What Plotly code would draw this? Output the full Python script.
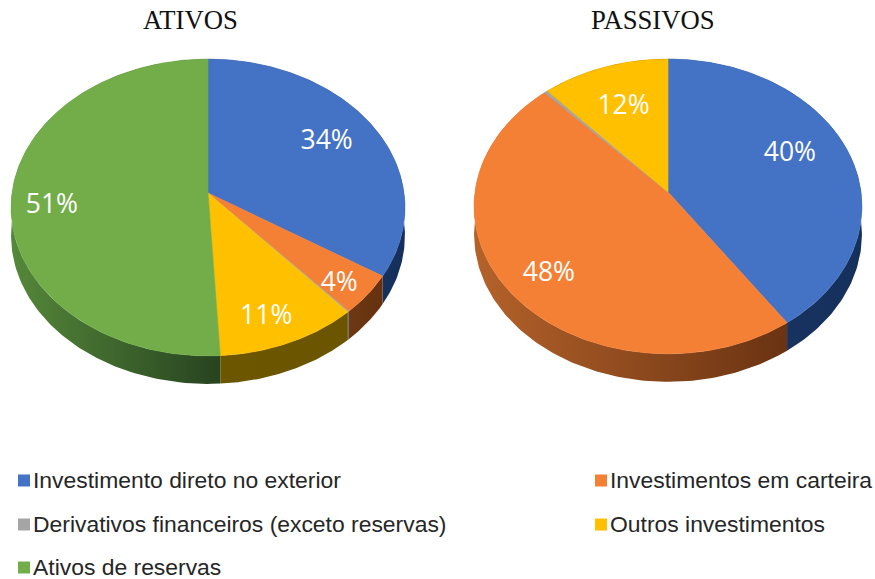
import numpy as np
import plotly.graph_objects as go

# ---- data ----
categories = ["Investimento direto no exterior", "Investimentos em carteira",
              "Derivativos financeiros (exceto reservas)", "Outros investimentos",
              "Ativos de reservas"]
ativos_values = [34, 4.4, 0.1, 10.6, 50.9]
passivos_values = [40.4, 47.6, 0.3, 11.7, 0]
chart_titles = ["ATIVOS", "PASSIVOS"]

# ---- styling ----
top_colors = ["#4472c4", "#f38035", "#a5a5a5", "#ffc000", "#72ad4a"]
wall_left = ["#1c3766", "#6e3814", "#666666", "#6d5600", "#55883a"]
wall_right = ["#16305c", "#66310f", "#555555", "#6b5500", "#274320"]
wall_left_p = ["#1c3766", "#b4622a", "#666666", "#6d5600", "#55883a"]
wall_right_p = ["#16305c", "#6a3312", "#555555", "#6b5500", "#274320"]

# ---- geometry of the tilted pies (screen-like axis units) ----
PIES = [
    dict(cx=208, cy=193, a=196, b=147, k=0.0976, depth=28,
         label_r=[0.72, 0.85, 0, 0.8, 0.8],
         label_off=[(-1, -1), (-3, 6), (0, 0), (-6, 7), (1, 10)],
         wl=wall_left, wr=wall_right),
    dict(cx=668, cy=192, a=193, b=146, k=0.0976, depth=28,
         label_r=[0.68, 0.78, 0, 0.68, 0],
         label_off=[(-1, -9), (4, 7), (0, 0), (0, 3), (0, 0)],
         wl=wall_left_p, wr=wall_right_p),
]
LEGEND_KEY = [(24, 481), (601, 481), (24, 525), (601, 525), (24, 568)]
LEGEND_TEXT_DX = 9
LEGEND_TEXT_DY = 1


def project(p, theta, r=1.0):
    X, Y = r * np.sin(theta), r * np.cos(theta)
    s = 1 / (1 + p["k"] * Y)
    return p["cx"] + p["a"] * X * s, p["cy"] - p["b"] * Y * s


fig = go.Figure()


def add_pie(p, values, name):
    total = sum(values)
    start = 0.0
    spans = []
    for v in values:
        end = start + v / total * 2 * np.pi
        spans.append((start, end))
        start = end
    order = sorted(range(len(values)), key=lambda i: np.cos((spans[i][0] + spans[i][1]) / 2), reverse=True)
    for i in order:
        if values[i] <= 0:
            continue
        t = np.linspace(*spans[i], 160)
        x, y = project(p, t)
        fig.add_trace(go.Scatter(
            x=np.r_[x, x[::-1]], y=np.r_[y, y[::-1] + p["depth"]],
            mode="lines", line=dict(width=0), fill="toself", fillcolor=p["wl"][i],
            fillgradient=dict(type="horizontal",
                              colorscale=[[0, p["wl"][i]], [1, p["wr"][i]]]),
            hoverinfo="skip", showlegend=False))
    for i, (s0, s1) in enumerate(spans):
        if values[i] <= 0:
            continue
        t = np.linspace(s0, s1, 240)
        x, y = project(p, t)
        fig.add_trace(go.Scatter(
            x=np.r_[p["cx"], x, p["cx"]], y=np.r_[p["cy"], y, p["cy"]],
            mode="lines", line=dict(width=0.6, color=top_colors[i]),
            fill="toself", fillcolor=top_colors[i],
            name=categories[i], text=f"{name}: {values[i]}%", hoverinfo="text",
            showlegend=False))
    lx, ly, lt = [], [], []
    for i, (s0, s1) in enumerate(spans):
        if p["label_r"][i] > 0:
            x, y = project(p, (s0 + s1) / 2, p["label_r"][i])
            lx.append(x + p["label_off"][i][0])
            ly.append(y + p["label_off"][i][1])
            lt.append(f"{round(values[i])}%")
    fig.add_trace(go.Scatter(
        x=lx, y=ly, mode="text", text=lt, textposition="middle center",
        textfont=dict(family="Open Sans", size=26.5, color="white"),
        hoverinfo="skip", showlegend=False))


add_pie(PIES[0], ativos_values, chart_titles[0])
add_pie(PIES[1], passivos_values, chart_titles[1])

# legend: square key + real text for each category
for i, cat in enumerate(categories):
    kx, ky = LEGEND_KEY[i]
    fig.add_trace(go.Scatter(
        x=[kx], y=[ky - 0.5], mode="markers", name=cat,
        marker=dict(symbol="square", size=12, color=top_colors[i], line=dict(width=0)),
        cliponaxis=False, hoverinfo="skip", showlegend=False))
    fig.add_trace(go.Scatter(
        x=[kx + LEGEND_TEXT_DX], y=[ky + LEGEND_TEXT_DY], mode="text", name=cat,
        text=[cat], textposition="middle right",
        textfont=dict(family="Liberation Sans", size=22.9, color="#262626"),
        cliponaxis=False, hoverinfo="skip", showlegend=False))

fig.update_layout(
    width=875, height=579, margin=dict(l=0, r=0, t=0, b=0, autoexpand=False),
    paper_bgcolor="white", plot_bgcolor="white", showlegend=False,
    xaxis=dict(range=[0, 875], visible=False, fixedrange=True),
    yaxis=dict(range=[579, 0], visible=False, fixedrange=True),
    annotations=[
        dict(x=cx, y=20, xref="x", yref="y", text=t, showarrow=False,
             font=dict(family="Liberation Serif", size=26.7, color="#111111"))
        for cx, t in zip([190.5, 653], chart_titles)
    ],
)

fig.write_html("out.html", config=dict(displayModeBar=False),
               post_script="document.body.style.margin='0';")
